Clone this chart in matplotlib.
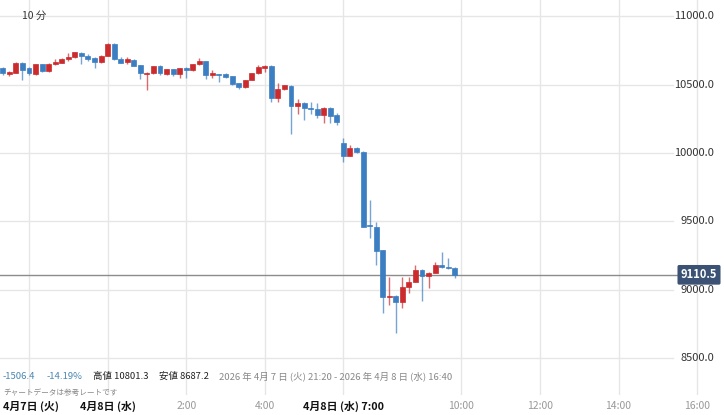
import matplotlib
matplotlib.use("Agg")
import matplotlib.pyplot as plt
from matplotlib.patches import Rectangle
import numpy as np

plt.rcParams['font.family'] = ['Noto Sans CJK JP', 'DejaVu Sans']

# ---- data (10-minute candles, 4/7 21:20 .. 5:50, then 7:00 .. 9:50) ----
opens = [10617, 10577, 10586, 10659, 10618, 10577, 10650, 10598, 10650, 10659,
         10686, 10699, 10728, 10708, 10696, 10667, 10710, 10796, 10686, 10664,
         10679, 10642, 10580, 10582, 10635, 10575, 10611, 10575, 10618, 10606,
         10647, 10672, 10569, 10577, 10574, 10560, 10509, 10480, 10533, 10582,
         10623, 10637, 10404, 10465, 10491, 10345, 10367, 10331, 10319, 10277,
         10331, 10277,
         10071, 9978, 10039, 10009, 9470, 9462, 9292, 8949, 8956, 8914,
         9020, 9058, 9146, 9105, 9126, 9182, 9170, 9160]
highs = [10628, 10598, 10662, 10664, 10630, 10652, 10652, 10655, 10686, 10690,
         10728, 10740, 10735, 10720, 10700, 10712, 10800, 10801.3, 10700, 10700,
         10684, 10645, 10590, 10638, 10640, 10615, 10615, 10620, 10628, 10650,
         10695, 10675, 10606, 10580, 10582, 10565, 10512, 10536, 10585, 10642,
         10642, 10642, 10511, 10500, 10496, 10394, 10370, 10374, 10363, 10335,
         10335, 10290,
         10107, 10058, 10045, 10012, 9657, 9499, 9295, 9097, 8960, 9097,
         9097, 9182, 9150, 9134, 9206, 9279, 9236, 9165]
lows = [10569, 10564, 10583, 10533, 10569, 10570, 10589, 10590, 10642, 10655,
        10672, 10695, 10647, 10672, 10620, 10660, 10705, 10680, 10655, 10650,
        10632, 10540, 10462, 10578, 10569, 10570, 10562, 10550, 10550, 10600,
        10645, 10540, 10550, 10520, 10545, 10495, 10467, 10476, 10530, 10580,
        10594, 10374, 10374, 10462, 10139, 10285, 10241, 10285, 10253, 10217,
        10217, 10204,
        9936, 9975, 9998, 9460, 9382, 9182, 8830, 8890, 8687.2, 8871,
        8976, 9055, 8922, 9012, 9122, 9160, 9155, 9085]
closes = [10584, 10594, 10659, 10606, 10586, 10650, 10601, 10650, 10667, 10686,
          10703, 10735, 10708, 10686, 10667, 10710, 10796, 10686, 10659, 10686,
          10637, 10582, 10587, 10635, 10582, 10613, 10577, 10618, 10606, 10647,
          10672, 10569, 10582, 10572, 10557, 10502, 10480, 10533, 10582, 10625,
          10637, 10404, 10465, 10496, 10345, 10363, 10326, 10319, 10277, 10331,
          10272, 10228,
          9980, 10039, 10010, 9462, 9467, 9284, 8947, 8956, 8914, 9024,
          9060, 9146, 9105, 9126, 9182, 9166, 9158, 9110.5]
night_count = 52   # candles 21:20 .. 5:50

last_price = 9110.5
y_ticks = [8500, 9000, 9500, 10000, 10500, 11000]
x_tick_pos = [0, 2, 4, 6, 8, 11, 13, 15, 17]   # hours on compressed axis (22:00 = 0)
x_tick_labels = ["4月7日 (火)", "4月8日 (水)", "2:00", "4:00", "4月8日 (水) 7:00",
                 "10:00", "12:00", "14:00", "16:00"]
x_tick_bold = [True, True, False, False, True, False, False, False, False]

# ---- layout ----
W, H = 724, 415
PX_PER_H = 39.3
X0_PX = 29.0
fig = plt.figure(figsize=(W / 100, H / 100), dpi=100)
ax_bottom_px = 395
ax = fig.add_axes([0, (H - ax_bottom_px) / H, 1, ax_bottom_px / H])
xmin = -X0_PX / PX_PER_H
xmax = (W - X0_PX) / PX_PER_H
ax.set_xlim(xmin, xmax)
ax.set_ylim(8233, 11117)
ax.axis('off')

def px_to_x(px):
    return (px - X0_PX) / PX_PER_H

# grid
for t in x_tick_pos:
    ax.axvline(t, color='#e6e6e6', lw=1, zorder=0)
for v in y_ticks:
    ax.plot([xmin, px_to_x(673)], [v, v], color='#e6e6e6', lw=1, zorder=0)

# candle x positions
n = len(opens)
xs = []
for i in range(n):
    if i < night_count:
        xs.append(-2 / 3 + i / 6)
    else:
        xs.append(8 + (i - night_count) / 6)

RED = '#cc2b2e'
BLUE = '#3c7ec2'
bw = 0.125
for x, o, h, l, c in zip(xs, opens, highs, lows, closes):
    col = RED if c > o else BLUE
    ax.plot([x, x], [l, h], color=col, lw=1, alpha=0.7, zorder=2, solid_capstyle='butt')
    bot = min(o, c)
    hgt = max(abs(c - o), 7)
    if abs(c - o) < 7:
        bot = (o + c) / 2 - 3.5
    ax.add_patch(Rectangle((x - bw / 2, bot), bw, hgt, facecolor=col,
                           edgecolor=col, lw=0.5, zorder=3))

# current price line
ax.plot([xmin, px_to_x(678)], [last_price, last_price], color='#8c8c8c', lw=1, zorder=1)

# y labels
ytr = ax.get_yaxis_transform()
for v in y_ticks:
    ax.text(714 / W, v, f"{v:.1f}", transform=ytr, ha='right', va='center',
            fontsize=8, color='#333333', zorder=5)
ax.text(699 / W, last_price, f"{last_price:.1f}", transform=ytr, ha='center', va='center',
        fontsize=8, color='white', fontweight='bold', zorder=6,
        bbox=dict(boxstyle='round,pad=0.3,rounding_size=0.15', fc='#3b5275', ec='none'))

# top-left label
fig.text(22 / W, 1 - 16 / H, "10 分", ha='left', va='center', fontsize=7.5, color='#333333')

# info line
info_y = 1 - 376 / H
fs_info = 6.8
fig.text(3 / W, info_y, "-1506.4", ha='left', va='center', fontsize=fs_info, color='#4a86b0')
fig.text(47 / W, info_y, "-14.19%", ha='left', va='center', fontsize=fs_info, color='#4a86b0')
fig.text(93 / W, info_y, "高値 10801.3", ha='left', va='center', fontsize=fs_info, color='#222222')
fig.text(159 / W, info_y, "安値 8687.2", ha='left', va='center', fontsize=fs_info, color='#222222')
fig.text(219 / W, info_y, "2026 年 4月 7 日 (火) 21:20 - 2026 年 4月 8 日 (水) 16:40",
         ha='left', va='center', fontsize=fs_info, color='#888888')
fig.text(3 / W, 1 - 393 / H, "チャートデータは参考レートです", ha='left', va='center',
         fontsize=5.5, color='#888888')

# x labels
lab_y = 1 - 406 / H
for t, lab, b in zip(x_tick_pos, x_tick_labels, x_tick_bold):
    px = X0_PX + t * PX_PER_H
    kw = dict(va='center', fontsize=7.8 if b else 7.5,
              fontweight='bold' if b else 'normal',
              color='#111111' if b else '#999999')
    if t == 0:
        fig.text(3 / W, lab_y, lab, ha='left', **kw)
    else:
        fig.text(px / W, lab_y, lab, ha='center', **kw)

fig.savefig("out.png", dpi=100, facecolor='white')
